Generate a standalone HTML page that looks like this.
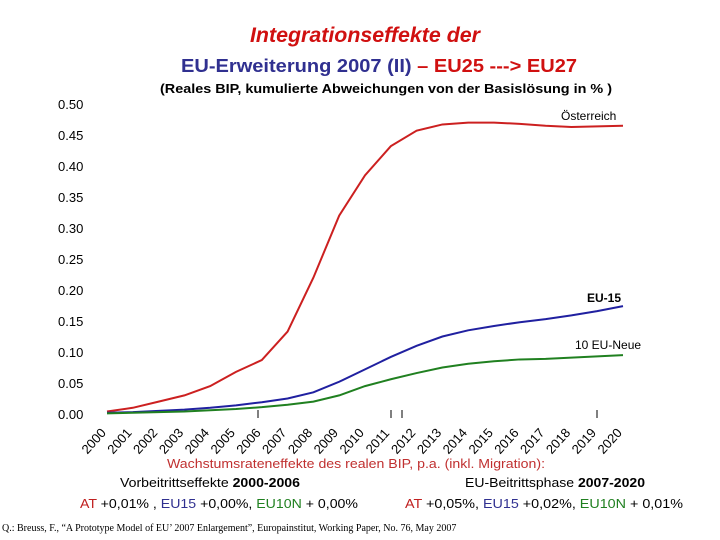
<!DOCTYPE html>
<html><head><meta charset="utf-8"><style>
body{margin:0;width:720px;height:540px;background:#fff;overflow:hidden;font-family:"Liberation Sans",sans-serif}
svg{position:absolute;left:0;top:0}
</style></head><body>
<svg id="c" width="720" height="540">
<text x="365" y="42" text-anchor="middle" font-size="21" font-style="italic" font-weight="bold" fill="#d01010" textLength="230" lengthAdjust="spacingAndGlyphs">Integrationseffekte der</text>
<text x="379" y="72" text-anchor="middle" font-size="18" font-weight="bold" textLength="396" lengthAdjust="spacingAndGlyphs"><tspan fill="#303090">EU-Erweiterung 2007 (II) </tspan><tspan fill="#d01010">– EU25 ---&gt; EU27</tspan></text>
<text x="386" y="93" text-anchor="middle" font-size="13" font-weight="bold" fill="#000" textLength="452" lengthAdjust="spacingAndGlyphs">(Reales BIP, kumulierte Abweichungen von der Basislösung in % )</text>
<g id="yaxis"></g><g id="xaxis"></g><g id="series"></g>
<text x="561" y="120" font-size="12">Österreich</text>
<text x="587" y="302" font-size="12" font-weight="bold">EU-15</text>
<text x="575" y="349" font-size="12">10 EU-Neue</text>
<text x="356" y="468" text-anchor="middle" font-size="13" fill="#c03030" textLength="378" lengthAdjust="spacingAndGlyphs">Wachstumsrateneffekte des realen BIP, p.a. (inkl. Migration):</text>
<text x="210" y="487" text-anchor="middle" font-size="13" textLength="180" lengthAdjust="spacingAndGlyphs">Vorbeitrittseffekte <tspan font-weight="bold">2000-2006</tspan></text>
<text x="555" y="487" text-anchor="middle" font-size="13" textLength="180" lengthAdjust="spacingAndGlyphs">EU-Beitrittsphase <tspan font-weight="bold">2007-2020</tspan></text>
<text x="80" y="508" font-size="13" textLength="278" lengthAdjust="spacingAndGlyphs"><tspan fill="#c02020">AT</tspan> +0,01% , <tspan fill="#303090">EU15</tspan> +0,00%, <tspan fill="#208020">EU10N</tspan> + 0,00%</text>
<text x="405" y="508" font-size="13" textLength="278" lengthAdjust="spacingAndGlyphs"><tspan fill="#c02020">AT</tspan> +0,05%,  <tspan fill="#303090">EU15</tspan> +0,02%, <tspan fill="#208020">EU10N</tspan> + 0,01%</text>
<text x="2" y="531" font-size="10" font-family="Liberation Serif, serif">Q.: Breuss, F., “A Prototype Model of EU’ 2007 Enlargement”, Europainstitut, Working Paper, No. 76, May 2007</text>
</svg>
<script>
const years=[2000,2001,2002,2003,2004,2005,2006,2007,2008,2009,2010,2011,2012,2013,2014,2015,2016,2017,2018,2019,2020];
const austria=[0.004,0.01,0.02,0.03,0.045,0.068,0.087,0.133,0.22,0.32,0.385,0.432,0.457,0.467,0.470,0.470,0.468,0.465,0.463,0.464,0.465];
const eu15=[0.002,0.003,0.005,0.007,0.01,0.014,0.019,0.025,0.035,0.052,0.072,0.092,0.11,0.125,0.135,0.142,0.148,0.153,0.159,0.166,0.174];
const eu10new=[0.001,0.002,0.003,0.004,0.006,0.008,0.011,0.015,0.02,0.03,0.045,0.056,0.066,0.075,0.081,0.085,0.088,0.089,0.091,0.093,0.095];
const yTicks=[0,0.05,0.1,0.15,0.2,0.25,0.3,0.35,0.4,0.45,0.5];
const NS="http://www.w3.org/2000/svg";
const x=i=>107+i*(516/(years.length-1));
const y=v=>414-v*620;
function mk(t,a,p){const e=document.createElementNS(NS,t);for(const k in a)e.setAttribute(k,a[k]);document.getElementById(p).appendChild(e);return e;}
yTicks.forEach(v=>{const t=mk('text',{x:58,y:y(v)+5,'font-size':13},'yaxis');t.textContent=v.toFixed(2);

});
[258,391,402,597].forEach(px=>{const l=mk('line',{x1:px,x2:px,y1:410,y2:418,stroke:'#000'},'xaxis');

});
years.forEach((yr,i)=>{const cx=x(i)-10,cy=444;const t=mk('text',{x:cx,y:cy,'font-size':13,'text-anchor':'middle',transform:`rotate(-48 ${cx} ${cy})`},'xaxis');t.textContent=yr;

});
[[austria,'#cc2020','line-oesterreich'],[eu15,'#2020a0','line-eu15'],[eu10new,'#208020','line-10-eu-neue']].forEach(([d,c,n])=>{
const p=mk('polyline',{points:d.map((v,i)=>x(i)+','+y(v)).join(' '),fill:'none',stroke:c,'stroke-width':2},'series');

});
</script>
</body></html>
